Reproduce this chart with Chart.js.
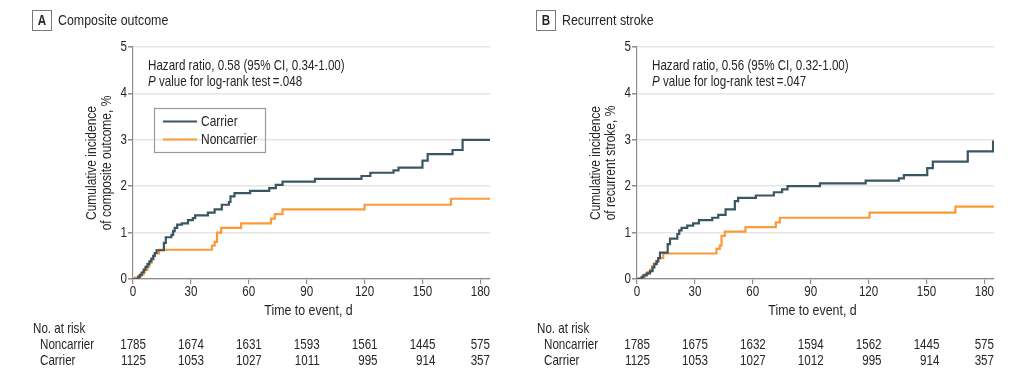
<!DOCTYPE html>
<html><head><meta charset="utf-8">
<script src="https://cdn.jsdelivr.net/npm/chart.js@4/dist/chart.umd.min.js"></script>
<style>
html,body{margin:0;padding:0;background:#fff;width:1024px;height:380px;overflow:hidden}
canvas{position:absolute;top:0}
#cA{left:0}#cB{left:504px}
</style></head><body>
<canvas id="cA" width="512" height="380"></canvas>
<canvas id="cB" width="512" height="380"></canvas>
<script>
// ---- data ----
const xTicks=[0,30,60,90,120,150,180];
const yTicks=[0,1,2,3,4,5];
const seriesNames=['Carrier','Noncarrier'];

const aCarrierT=[0,2.7,3.5,4.5,5.5,6.5,7.5,8.5,9.5,10.5,11.3,12.2,16,17,19.9,20.8,21.6,22.9,25.3,28.5,31,32.2,38.8,42.3,46,49.7,50.5,52.6,60.7,70.6,74,77.5,94.3,118.4,123,135,137.6,150,152.7,165.6,170.8,185];
const aCarrierV=[0,0.04,0.09,0.14,0.2,0.26,0.32,0.38,0.44,0.5,0.56,0.62,0.78,0.9,0.95,1.03,1.1,1.17,1.2,1.27,1.31,1.37,1.43,1.5,1.6,1.66,1.78,1.85,1.9,1.96,2.03,2.1,2.16,2.22,2.29,2.34,2.4,2.55,2.69,2.78,3.0,3.0];
const aNonT=[0,1,2.7,4.4,5.5,6.1,7.4,8.4,9.6,10.5,11.3,13.5,40.9,42.3,43.5,45.7,56,71.5,73.5,77.5,120,164.8,185];
const aNonV=[0,0.03,0.06,0.1,0.15,0.2,0.27,0.35,0.42,0.5,0.55,0.63,0.72,0.8,1.0,1.1,1.2,1.3,1.4,1.5,1.6,1.73,1.73];

const bCarrierT=[0,2.4,3.3,5,6.7,8.1,9,10.2,11,11.9,15.9,17.1,20.9,21.9,23.1,26,29.1,32.1,39,42.1,45.9,50.7,52.4,61.6,70.9,75.2,78,94.8,118.5,135.7,138.3,150.4,153.3,171.4,184.5,185];
const bCarrierV=[0,0.04,0.08,0.12,0.17,0.25,0.32,0.38,0.45,0.57,0.75,0.87,0.97,1.05,1.1,1.15,1.2,1.27,1.32,1.38,1.5,1.68,1.75,1.8,1.87,1.93,2.0,2.06,2.12,2.17,2.24,2.39,2.53,2.75,2.96,2.96];
const bNonT=[0,0.7,2.5,4,5.5,6.9,7.8,8.8,9.8,11,13.6,41.2,42.9,43.8,45.5,56.2,71.9,74,120.5,165,185];
const bNonV=[0,0.02,0.05,0.1,0.15,0.2,0.27,0.33,0.38,0.45,0.55,0.65,0.72,0.93,1.02,1.12,1.22,1.32,1.43,1.56,1.56];

const riskNonA=[1785,1674,1631,1593,1561,1445,575];
const riskCarA=[1125,1053,1027,1011,995,914,357];
const riskNonB=[1785,1675,1632,1594,1562,1445,575];
const riskCarB=[1125,1053,1027,1012,995,914,357];

// ---- style ----
const F='"Liberation Sans",Arial,sans-serif';
const SX=0.8; // horizontal condensing of text
const TXT='#262626';
const C_CAR='#3a5664';
const C_NON='#fb9a3a';
const AXIS='#8c8c8c';

function pts(t,v){return t.map((x,i)=>({x:x,y:v[i]}));}

function T(ctx,s,x,y,size,align,style,rot){
  ctx.save(); ctx.translate(x,y); if(rot) ctx.rotate(rot); ctx.scale(SX,1);
  ctx.font=(style?style+' ':'')+size+'px '+F; ctx.textAlign=align||'left'; ctx.textBaseline='middle';
  ctx.fillText(s,0,0); ctx.restore();
}
function W(ctx,s,size,style){ctx.save();ctx.font=(style?style+' ':'')+size+'px '+F;const w=ctx.measureText(s).width*SX;ctx.restore();return w;}

const panelPlugin={id:'panelText',afterDraw(chart){
  const o=chart.options.plugins.panelText;
  const ctx=chart.ctx, ca=chart.chartArea, xs=chart.scales.x, ys=chart.scales.y;
  ctx.save();
  ctx.fillStyle=TXT;
  // tick labels
  xTicks.forEach(t=>T(ctx,String(t),xs.getPixelForValue(t),292,14.5,'center'));
  yTicks.forEach(t=>T(ctx,String(t),ca.left-6,ys.getPixelForValue(t),14.5,'right'));
  // header
  ctx.strokeStyle='#7a7a7a'; ctx.lineWidth=1; ctx.strokeRect(32.5,10.5,19,20);
  T(ctx,'',0,0,14);
  T(ctx,o.letter,42,21,14.5,'center','bold');
  T(ctx,o.title,58,21,15.5,'left');
  // y title
  const cy=(ca.top+ca.bottom)/2;
  T(ctx,o.yTitle[0],92,cy,15,'center','',-Math.PI/2);
  T(ctx,o.yTitle[1],106.5,cy,15,'center','',-Math.PI/2);
  // x title
  T(ctx,o.xTitle,(ca.left+ca.right)/2-3,311,15.5,'center');
  // annotation
  T(ctx,o.hr,148,66,14.5,'left');
  T(ctx,'P',148,81.5,14.5,'left','italic');
  T(ctx,o.pv,148+W(ctx,'P',14.5,'italic'),81.5,14.5,'left');
  // legend
  if(o.legend){
    ctx.strokeStyle='#9a9a9a'; ctx.lineWidth=1.2; ctx.strokeRect(154.5,108.5,111,44);
    const items=[[seriesNames[0],C_CAR,121.5],[seriesNames[1],C_NON,139.5]];
    items.forEach(([lab,col,y])=>{
      ctx.strokeStyle=col; ctx.lineWidth=2; ctx.beginPath(); ctx.moveTo(163,y); ctx.lineTo(197,y); ctx.stroke();
      T(ctx,lab,201,y,15,'left');
    });
  }
  // risk table
  T(ctx,'No. at risk',33,328.5,14.5,'left');
  T(ctx,seriesNames[1],40,345,14.5,'left');
  T(ctx,seriesNames[0],40,361,14.5,'left');
  xTicks.forEach((t,i)=>{
    const x=Math.min(xs.getPixelForValue(t)+13,ca.right);
    T(ctx,String(o.riskNon[i]),x,345,14.5,'right');
    T(ctx,String(o.riskCar[i]),x,361,14.5,'right');
  });
  ctx.restore();
}};

function makeChart(id,cT,cV,nT,nV,txt){
  return new Chart(document.getElementById(id),{
    type:'line',
    data:{datasets:[
      {label:seriesNames[0],data:pts(cT,cV),borderColor:C_CAR,borderWidth:2.2,stepped:'before',pointRadius:0,fill:false},
      {label:seriesNames[1],data:pts(nT,nV),borderColor:C_NON,borderWidth:2.2,stepped:'before',pointRadius:0,fill:false}
    ]},
    options:{
      responsive:false,animation:false,devicePixelRatio:1,
      layout:{padding:{left:0,right:22,top:47,bottom:0}},
      plugins:{legend:{display:false},tooltip:{enabled:false},panelText:txt},
      scales:{
        x:{type:'linear',min:0,max:185,
          afterBuildTicks:s=>{s.ticks=xTicks.map(v=>({value:v}));},
          afterFit:s=>{s.height=101;},
          grid:{drawOnChartArea:false,drawTicks:true,tickLength:5,color:AXIS,lineWidth:1.2},
          border:{display:true,color:AXIS,width:1.2},
          ticks:{display:false}},
        y:{type:'linear',min:0,max:5,
          afterBuildTicks:s=>{s.ticks=yTicks.map(v=>({value:v}));},
          afterFit:s=>{s.width=133;},
          grid:{color:'#e6e6e6',lineWidth:1.5,tickColor:AXIS,tickLength:5,drawTicks:true},
          border:{display:true,color:AXIS,width:1.2},
          ticks:{display:false}}
      }
    },
    plugins:[panelPlugin]
  });
}

makeChart('cA',aCarrierT,aCarrierV,aNonT,aNonV,{
  letter:'A',title:'Composite outcome',yTitle:['Cumulative incidence','of composite outcome, %'],
  xTitle:'Time to event, d',hr:'Hazard ratio, 0.58 (95% CI, 0.34-1.00)',pv:' value for log-rank test\u2009=.048',
  legend:true,riskNon:riskNonA,riskCar:riskCarA});
makeChart('cB',bCarrierT,bCarrierV,bNonT,bNonV,{
  letter:'B',title:'Recurrent stroke',yTitle:['Cumulative incidence','of recurrent stroke, %'],
  xTitle:'Time to event, d',hr:'Hazard ratio, 0.56 (95% CI, 0.32-1.00)',pv:' value for log-rank test\u2009=.047',
  legend:false,riskNon:riskNonB,riskCar:riskCarB});
</script>
</body></html>
